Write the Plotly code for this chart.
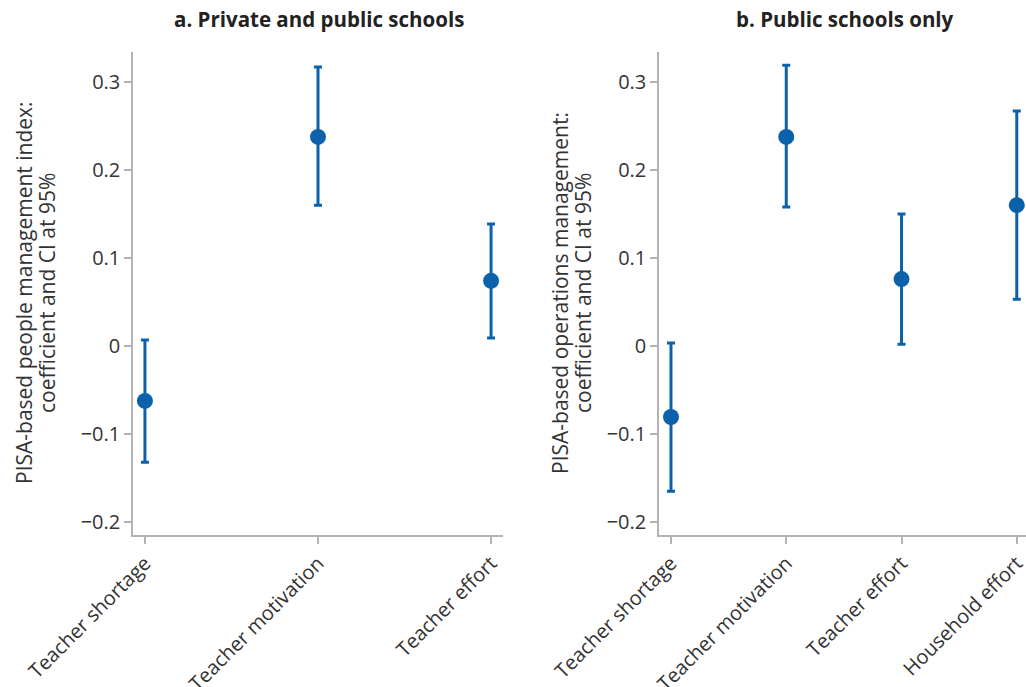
import plotly.graph_objects as go

cats_a = ["Teacher shortage", "Teacher motivation", "Teacher effort"]
coef_a = [-0.0625, 0.2375, 0.074]
upper_a = [0.0068, 0.317, 0.1386]
lower_a = [-0.132, 0.160, 0.0091]

cats_b = ["Teacher shortage", "Teacher motivation", "Teacher effort", "Household effort"]
coef_b = [-0.0807, 0.2375, 0.076, 0.160]
upper_b = [0.0034, 0.319, 0.150, 0.267]
lower_b = [-0.165, 0.158, 0.002, 0.053]

title_a = "a. Private and public schools"
title_b = "b. Public schools only"
ytitle_a = ["PISA-based people management index:", "coefficient and CI at 95%"]
ytitle_b = ["PISA-based operations management:", "coefficient and CI at 95%"]

BLUE = "#0b62ab"
FONT = "Open Sans"
W, H = 1026, 687

fig = go.Figure()

def add_panel(cats, coef, upper, lower, xa, ya):
    fig.add_trace(go.Scatter(
        x=cats, y=coef, mode="markers", xaxis=xa, yaxis=ya,
        marker=dict(color=BLUE, size=16), cliponaxis=False,
        error_y=dict(type="data", symmetric=False,
                     array=[u - c for u, c in zip(upper, coef)],
                     arrayminus=[c - l for c, l in zip(coef, lower)],
                     color=BLUE, thickness=3, width=4),
        showlegend=False, hoverinfo="skip"))

add_panel(cats_a, coef_a, upper_a, lower_a, "x", "y")
add_panel(cats_b, coef_b, upper_b, lower_b, "x2", "y2")

def px(x):
    return x / W

def py(y):
    return 1 - y / H

ydom = [py(535), py(52)]
axcommon = dict(showline=True, linecolor="#b3b3b3", linewidth=1.5,
                ticks="outside", ticklen=7, tickcolor="#b3b3b3", tickwidth=1.5,
                showgrid=False, zeroline=False, automargin=False,
                tickfont=dict(family=FONT, size=20, color="#333333"))

fig.update_layout(
    width=W, height=H,
    margin=dict(l=0, r=0, t=0, b=0),
    paper_bgcolor="white", plot_bgcolor="white",
    font=dict(family=FONT, color="#333333"),
    xaxis=dict(domain=[px(133), px(503)], anchor="y", type="category",
               range=[-0.069, 2.069], tickangle=-45, **axcommon),
    yaxis=dict(domain=ydom, anchor="x", range=[-0.2148, 0.334], dtick=0.1,
               tick0=0, **axcommon),
    xaxis2=dict(domain=[px(659), 1.0], anchor="y2", type="category",
                range=[-0.104, 3.08], tickangle=-45, **axcommon),
    yaxis2=dict(domain=ydom, anchor="x2", range=[-0.2148, 0.334], dtick=0.1,
                tick0=0, **axcommon),
)

for t, xc in [(title_a, 318.5), (title_b, 845)]:
    fig.add_annotation(text="<b>" + t + "</b>", x=px(xc), y=py(19),
                       xanchor="center", yanchor="middle",
                       xref="paper", yref="paper", showarrow=False,
                       font=dict(family=FONT, size=20.5, color="#222222"))
for lines, xs in [(ytitle_a, (24, 47)), (ytitle_b, (560, 583))]:
    for txt, xc in zip(lines, xs):
        fig.add_annotation(text=txt, x=px(xc), y=py(293), textangle=-90,
                           xanchor="center", yanchor="middle",
                           xref="paper", yref="paper", showarrow=False,
                           font=dict(family=FONT, size=21, color="#333333"))

fig.write_html("out.html",
               config={"displayModeBar": False},
               post_script="document.body.style.margin='0';"
                           "document.body.style.overflow='hidden';")
